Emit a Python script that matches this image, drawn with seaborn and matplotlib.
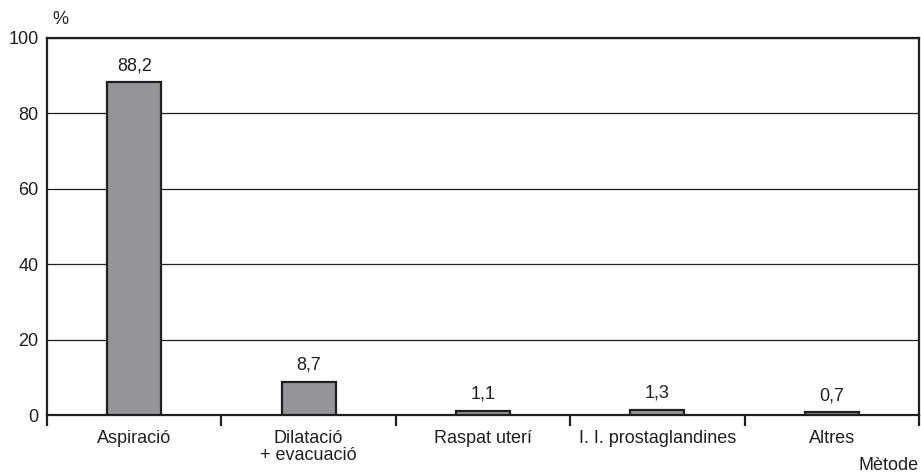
import numpy as np
import pandas as pd
import matplotlib
matplotlib.use("Agg")
import matplotlib.pyplot as plt
import seaborn as sns

# data
methods = ["Aspiració", "Dilatació\n+ evacuació", "Raspat uterí",
           "I. I. prostaglandines", "Altres"]
percent = [88.2, 8.7, 1.1, 1.3, 0.7]
y_ticks = [0, 20, 40, 60, 80, 100]

df = pd.DataFrame({"Mètode": methods, "pct": percent})

sns.set_style("white")
plt.rcParams["font.family"] = ["Liberation Sans", "DejaVu Sans"]

fig = plt.figure(figsize=(9.21, 4.74), dpi=100)
ax = fig.add_axes([47 / 921, 1 - 415 / 474, (919 - 47) / 921, (415 - 38) / 474])

sns.barplot(data=df, x="Mètode", y="pct", color="#939598", edgecolor="#231f20",
            linewidth=1.6, width=0.31, saturation=1, ax=ax, zorder=3)

fs = 13
ax.set_ylim(0, 100)
ax.set_xlim(-0.5, len(methods) - 0.5)
ax.set_yticks(y_ticks)
ax.set_yticklabels([str(t) for t in y_ticks], fontsize=fs, color="#231f20")
ax.tick_params(axis="y", length=0, pad=6)
ax.yaxis.grid(True, color="#231f20", linewidth=0.9, zorder=0)
ax.set_axisbelow(True)

# labels centred, tick marks at category boundaries
ax.set_xticks(range(len(methods)))
ax.set_xticklabels(methods, fontsize=fs, color="#231f20", linespacing=0.95)
ax.tick_params(axis="x", which="major", bottom=True, length=0, pad=11)
ax.set_xticks(np.arange(-0.5, len(methods)), minor=True)
ax.tick_params(axis="x", which="minor", bottom=True, length=8, width=1.6,
               color="#231f20", direction="out")

for s in ax.spines.values():
    s.set_color("#231f20")
    s.set_linewidth(1.6)

for i, v in enumerate(percent):
    ax.text(i, v + 2.2, f"{v}".replace(".", ","), ha="center", va="bottom",
            fontsize=fs, color="#231f20")

ax.set_xlabel("")
ax.set_ylabel("")
fig.text(52 / 921, 1 - 20 / 474, "%", fontsize=fs, color="#231f20", va="center")
fig.text(919 / 921, 1 - 466 / 474, "Mètode", fontsize=fs, color="#231f20",
         ha="right", va="center")

fig.savefig("out.png", dpi=100)
